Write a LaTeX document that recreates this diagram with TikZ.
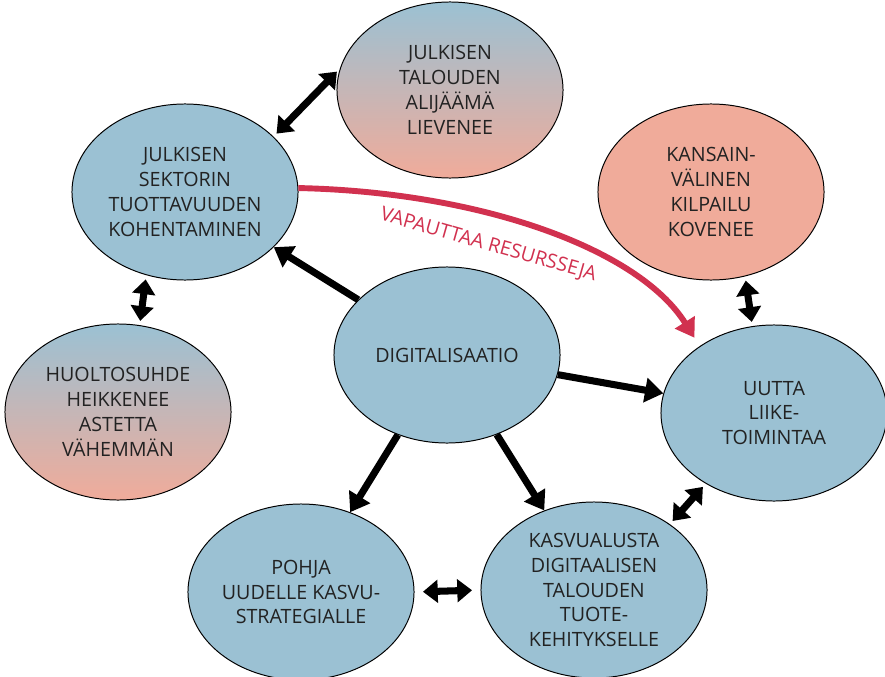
\documentclass[tikz,border=0pt]{standalone}
\usepackage{fontspec}
\setmainfont{Open Sans}
\usepackage{tikz}
\usetikzlibrary{arrows.meta,shapes.geometric,positioning}
\usepackage{xcolor}

\definecolor{bubbleblue}{HTML}{9BC1D3}
\definecolor{bubblesalmon}{HTML}{F0AB9A}
\definecolor{releasered}{HTML}{D1314F}
\definecolor{inkgray}{HTML}{222222}

\tikzset{
  bubble/.style={ellipse, draw=black, line width=0.7pt, inner sep=0pt,
    minimum width=5.65cm, minimum height=4.4cm, align=center,
    text=inkgray, font=\fontsize{14}{17.7}\selectfont},
  bluebubble/.style={bubble, fill=bubbleblue},
  salmonbubble/.style={bubble, fill=bubblesalmon},
  mixbubble/.style={bubble, top color=bubbleblue, bottom color=bubblesalmon},
  link/.style={line width=5pt, -{Triangle[width=17pt,length=13pt]}},
  mutual/.style={line width=5pt, shorten <=3pt, shorten >=3pt,
    {Triangle[width=16pt,length=10.5pt]}-{Triangle[width=16pt,length=10.5pt]}},
  release/.style={releasered, line width=4.2pt, shorten >=7pt,
    -{Triangle[width=16pt,length=13pt]}}
}

\begin{document}
\begin{tikzpicture}[x=0.025cm, y=-0.025cm]
  \useasboundingbox (0,0) rectangle (885,676);
  % Bubbles
  \node[mixbubble]    (aliJaama)      at (450,90)  {JULKISEN\\TALOUDEN\\ALIJÄÄMÄ\\LIEVENEE};
  \node[bluebubble]   (tuottavuus)    at (185,192) {JULKISEN\\SEKTORIN\\TUOTTAVUUDEN\\KOHENTAMINEN};
  \node[salmonbubble] (kilpailu)      at (711,192) {KANSAIN-\\VÄLINEN\\KILPAILU\\KOVENEE};
  \node[mixbubble]    (huoltosuhde)   at (118,412) {HUOLTOSUHDE\\HEIKKENEE\\ASTETTA\\VÄHEMMÄN};
  \node[bluebubble]   (digi)          at (447,355) {DIGITALISAATIO};
  \node[bluebubble]   (liiketoiminta) at (774,413) {UUTTA\\LIIKE-\\TOIMINTAA};
  \node[bluebubble]   (pohja)         at (301,592) {POHJA\\UUDELLE KASVU-\\STRATEGIALLE};
  \node[bluebubble]   (kasvualusta)   at (594,590) {KASVUALUSTA\\DIGITAALISEN\\TALOUDEN\\TUOTE-\\KEHITYKSELLE};
  % From digitalisation outwards
  \draw[link] (digi) -- (tuottavuus);
  \draw[link] (digi) -- (liiketoiminta);
  \draw[link] (digi) -- (pohja);
  \draw[link] (digi) -- (kasvualusta);
  % Two-way links
  \draw[mutual] (tuottavuus.32) -- (aliJaama.169);
  \draw[mutual] (tuottavuus.245) -- (huoltosuhde.76);
  \draw[mutual] (kilpailu.292) -- (liiketoiminta.104);
  \draw[mutual] (liiketoiminta.226) -- (kasvualusta.41);
  \draw[mutual, shorten <=6pt, shorten >=6pt] (pohja.0) -- (kasvualusta.180);
  % Freed resources
  \draw[release] (tuottavuus.2) .. controls +(183,4) and +(-61,-97) .. (liiketoiminta.138)
    node[pos=0.39, sloped, below=13pt, inner sep=0pt, text=releasered,
      font=\fontsize{14}{17.7}\selectfont] (resurssit) {VAPAUTTAA RESURSSEJA};
\end{tikzpicture}
\end{document}
